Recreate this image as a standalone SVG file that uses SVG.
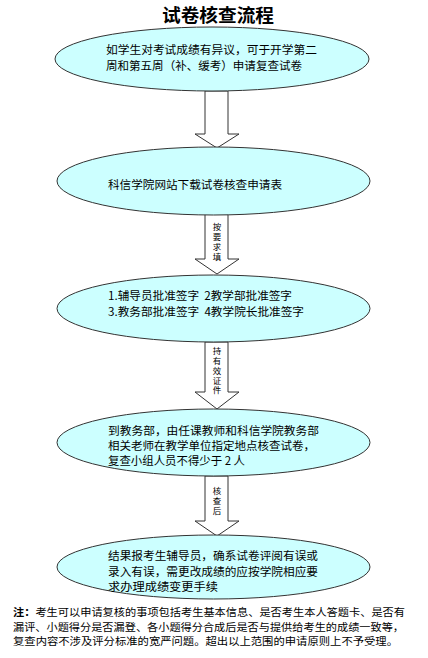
<svg xmlns="http://www.w3.org/2000/svg" width="428" height="658" viewBox="0 0 428 658">
<style>
.node{fill:#CCFFFF;stroke:#333333;stroke-width:1}
.arr{fill:#FFFFFF;stroke:#333333;stroke-width:1}
.t{font-family:"Noto Sans CJK SC","Liberation Sans",sans-serif;font-size:11.5px;fill:#000}
.n{font-family:"Noto Sans CJK SC","Liberation Sans",sans-serif;font-size:10.5px;fill:#000}
.v{font-family:"Noto Sans CJK SC","Liberation Sans",sans-serif;font-size:8.5px;fill:#000;writing-mode:tb;letter-spacing:1.2px}
.title{font-family:"Noto Sans CJK SC","Liberation Sans",sans-serif;font-size:18px;font-weight:bold;fill:#000;text-anchor:middle}
</style>
<rect width="428" height="658" fill="#FFFFFF"/>
<text class="title" x="218" y="22" textLength="112" lengthAdjust="spacingAndGlyphs">试卷核查流程</text>
<g id="connectors">
<g id="arrow1"><path class="arr" d="M205,91 H228 V134 H239 L217,148 L195,134 H205 Z"/></g>
<g id="arrow2"><path class="arr" d="M205,214 H228 V259 H239 L217,274 L195,259 H205 Z"/>
<text class="v" x="217" y="223">按要求填</text></g>
<g id="arrow3"><path class="arr" d="M205,342 H228 V392 H239 L217,409 L195,392 H205 Z"/>
<text class="v" x="217" y="347">持有效证件</text></g>
<g id="arrow4"><path class="arr" d="M205,476 H228 V521 H239 L217,536 L195,521 H205 Z"/>
<text class="v" x="217" y="487">核查后</text></g>
</g>
<g id="node1"><ellipse class="node" cx="212" cy="59" rx="157" ry="32"/>
<text class="t" x="106" y="54" textLength="211" lengthAdjust="spacingAndGlyphs">如学生对考试成绩有异议，可于开学第二</text>
<text class="t" x="106" y="70" textLength="196" lengthAdjust="spacingAndGlyphs">周和第五周（补、缓考）申请复查试卷</text></g>
<g id="node2"><ellipse class="node" cx="213.5" cy="181" rx="156.5" ry="34"/>
<text class="t" x="108" y="189" textLength="174" lengthAdjust="spacingAndGlyphs">科信学院网站下载试卷核查申请表</text></g>
<g id="node3"><ellipse class="node" cx="213.5" cy="308.5" rx="156.5" ry="33.5"/>
<text class="t" x="108" y="300" xml:space="preserve" textLength="184" lengthAdjust="spacingAndGlyphs">1.辅导员批准签字  2教学部批准签字</text>
<text class="t" x="108" y="316" xml:space="preserve" textLength="196" lengthAdjust="spacingAndGlyphs">3.教务部批准签字  4教学院长批准签字</text></g>
<g id="node4"><ellipse class="node" cx="213.5" cy="442.5" rx="156.5" ry="33.5"/>
<text class="t" x="108" y="435" textLength="211" lengthAdjust="spacingAndGlyphs">到教务部，由任课教师和科信学院教务部</text>
<text class="t" x="108" y="450" textLength="207" lengthAdjust="spacingAndGlyphs">相关老师在教学单位指定地点核查试卷，</text>
<text class="t" x="108" y="465" textLength="137" lengthAdjust="spacingAndGlyphs">复查小组人员不得少于 2 人</text></g>
<g id="node5"><ellipse class="node" cx="213.5" cy="567" rx="156.5" ry="32"/>
<text class="t" x="108" y="560" textLength="210" lengthAdjust="spacingAndGlyphs">结果报考生辅导员，确系试卷评阅有误或</text>
<text class="t" x="108" y="576" textLength="210" lengthAdjust="spacingAndGlyphs">录入有误，需更改成绩的应按学院相应要</text>
<text class="t" x="108" y="591" textLength="110" lengthAdjust="spacingAndGlyphs">求办理成绩变更手续</text></g>
<g id="note">
<text class="n" x="13" y="616" textLength="392" lengthAdjust="spacingAndGlyphs"><tspan font-weight="bold">注：</tspan>考生可以申请复核的事项包括考生基本信息、是否考生本人答题卡、是否有</text>
<text class="n" x="13" y="630.5" textLength="391" lengthAdjust="spacingAndGlyphs">漏评、小题得分是否漏登、各小题得分合成后是否与提供给考生的成绩一致等，</text>
<text class="n" x="13" y="645" textLength="385" lengthAdjust="spacingAndGlyphs">复查内容不涉及评分标准的宽严问题。超出以上范围的申请原则上不予受理。</text>
</g>
</svg>
